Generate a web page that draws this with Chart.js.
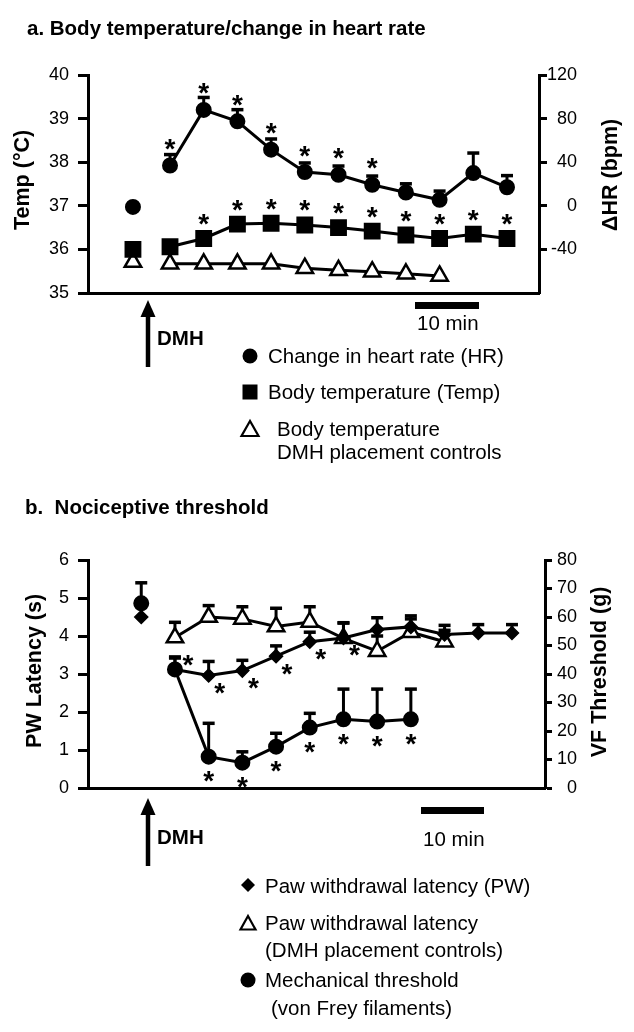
<!DOCTYPE html>
<html><head><meta charset="utf-8">
<script src="https://cdn.jsdelivr.net/npm/chart.js@4.4.1/dist/chart.umd.min.js"></script>
<style>
html,body{margin:0;padding:0;background:#fff;}
body{width:634px;height:1032px;position:relative;overflow:hidden;font-family:'Liberation Sans',Arial,sans-serif;color:#000;}
canvas{position:absolute;left:0;}
.t{position:absolute;white-space:nowrap;font-size:20.5px;line-height:24.6px;}
.b{font-weight:bold;}
.rot{position:absolute;width:300px;height:25.8px;line-height:25.8px;text-align:center;font-weight:bold;font-size:21.5px;transform:rotate(-90deg);white-space:nowrap;}
</style></head>
<body>
<canvas id="ca" width="634" height="320" style="top:0"></canvas>
<canvas id="cb" width="634" height="320" style="top:500px"></canvas>

<svg width="634" height="1032" style="position:absolute;left:0;top:0">
  <line x1="148" y1="315" x2="148" y2="367" stroke="#000" stroke-width="4.5"/>
  <polygon points="148,300 140.5,317 155.5,317" fill="#000"/>
  <rect x="415" y="302" width="64" height="7" fill="#000"/>
  <circle cx="250" cy="356" r="7.5" fill="#000"/>
  <rect x="242.5" y="384.5" width="15" height="15" fill="#000"/>
  <polygon points="250,421 241.5,436 258.5,436" fill="#fff" stroke="#000" stroke-width="2.2"/>

  <line x1="148" y1="813" x2="148" y2="866" stroke="#000" stroke-width="4.5"/>
  <polygon points="148,798 140.5,815 155.5,815" fill="#000"/>
  <rect x="421" y="807" width="63" height="7" fill="#000"/>
  <polygon points="248,878 255,885 248,892 241,885" fill="#000"/>
  <polygon points="248,916 240.5,929.5 255.5,929.5" fill="#fff" stroke="#000" stroke-width="2.2"/>
  <circle cx="248" cy="980" r="7.5" fill="#000"/>
</svg>

<div class="t b" style="left:27px;top:16px">a. Body temperature/change in heart rate</div>
<div class="rot" style="left:-127px;top:167px">Temp (°C)</div>
<div class="rot" style="left:461px;top:162px">ΔHR (bpm)</div>
<div class="t" style="left:417px;top:310.5px">10 min</div>
<div class="t b" style="left:157px;top:325.5px">DMH</div>
<div class="t" style="left:268px;top:343.5px">Change in heart rate (HR)</div>
<div class="t" style="left:268px;top:379.7px">Body temperature (Temp)</div>
<div class="t" style="left:277px;top:417px">Body temperature</div>
<div class="t" style="left:277px;top:440px">DMH placement controls</div>

<div class="t b" style="left:25px;top:494.7px">b.&nbsp; Nociceptive threshold</div>
<div class="rot" style="left:-115.5px;top:658px">PW Latency (s)</div>
<div class="rot" style="left:450px;top:659px">VF Threshold (g)</div>
<div class="t" style="left:423px;top:826.7px">10 min</div>
<div class="t b" style="left:157px;top:825px">DMH</div>
<div class="t" style="left:265px;top:873.5px">Paw withdrawal latency (PW)</div>
<div class="t" style="left:265px;top:910.7px">Paw withdrawal latency</div>
<div class="t" style="left:265px;top:938px">(DMH placement controls)</div>
<div class="t" style="left:265px;top:968px">Mechanical threshold</div>
<div class="t" style="left:271px;top:996px">(von Frey filaments)</div>

<script>
// ---------- Panel a data ----------
const timesA = [0, 5, 10, 15, 20, 25, 30, 35, 40, 45, 50];
const baselineTimeA = -5.5;
const hrBaseline = -1;
const hrValues = [37, 88, 77.5, 51.5, 31, 28.5, 19.3, 12.2, 5.5, 30, 17];
const hrErrors = [10, 11.4, 10.7, 9.8, 8.3, 8, 8, 8, 8, 18.4, 10.7];
const hrStars = [1, 1, 1, 1, 1, 1, 1, 0, 0, 0, 0];
const tempBaseline = 36.0;
const tempValues = [36.06, 36.25, 36.58, 36.6, 36.56, 36.5, 36.42, 36.33, 36.25, 36.35, 36.25];
const tempStars = [0, 1, 1, 1, 1, 1, 1, 1, 1, 1, 1];
const ctrlTempTimes = [0, 5, 10, 15, 20, 25, 30, 35, 40];
const ctrlTempBaseline = 35.71;
const ctrlTempValues = [35.67, 35.67, 35.67, 35.67, 35.57, 35.52, 35.49, 35.44, 35.39];
const tempTicks = [35, 36, 37, 38, 39, 40];
const hrTicks = [-40, 0, 40, 80, 120];

// ---------- Panel b data ----------
const timesB = [0, 5, 10, 15, 20, 25, 30, 35, 40, 45, 50];
const baselineTimeB = -5;
const pwBaseline = 4.5;
const pwValues = [3.12, 2.96, 3.09, 3.47, 3.85, 3.95, 4.17, 4.24, 4.04, 4.08, 4.08];
const pwErrors = [0.3, 0.37, 0.27, 0.27, 0.25, 0.4, 0.31, 0.29, 0.24, 0.22, 0.22];
const pwStars = [1, 1, 1, 1, 1, 1, 0, 0, 0, 0, 0];
const ctrlPwTimes = [0, 5, 10, 15, 20, 25, 30, 35, 40];
const ctrlPwValues = [3.96, 4.5, 4.45, 4.25, 4.37, 3.94, 3.6, 4.1, 3.85];
const ctrlPwErrors = [0.4, 0.3, 0.32, 0.48, 0.4, 0.4, 0.4, 0.35, 0.3];
const vfTimes = [0, 5, 10, 15, 20, 25, 30, 35];
const vfBaseline = 64.8;
const vfBaselineError = 7.2;
const vfValues = [41.6, 11, 8.9, 14.5, 21.2, 24.1, 23.3, 24.1];
const vfErrors = [4.4, 11.7, 3.8, 4.7, 5, 10.6, 11.4, 10.6];
const vfStars = [0, 1, 1, 1, 1, 1, 1, 1];
const pwTicks = [0, 1, 2, 3, 4, 5, 6];
const vfTicks = [0, 10, 20, 30, 40, 50, 60, 70, 80];

const FONT = "'Liberation Sans', Arial, sans-serif";
const pts = (xs, ys) => ys.map((y, i) => ({x: xs[i], y}));

const errorBars = {
  id: 'errorBars',
  beforeDatasetsDraw(chart) {
    const ctx = chart.ctx;
    chart.data.datasets.forEach((ds, di) => {
      if (!ds.errors) return;
      const meta = chart.getDatasetMeta(di);
      const ys = chart.scales[ds.yAxisID];
      meta.data.forEach((el, i) => {
        const e = ds.errors[i];
        if (!e) return;
        const top = ys.getPixelForValue(ds.data[i].y + e);
        ctx.save();
        ctx.strokeStyle = '#000';
        ctx.lineWidth = 3;
        ctx.beginPath();
        ctx.moveTo(el.x, el.y);
        ctx.lineTo(el.x, top);
        ctx.stroke();
        ctx.lineWidth = 3.5;
        ctx.beginPath();
        ctx.moveTo(el.x - 6, top);
        ctx.lineTo(el.x + 6, top);
        ctx.stroke();
        ctx.restore();
      });
    });
  }
};

const stars = {
  id: 'stars',
  afterDatasetsDraw(chart) {
    const ctx = chart.ctx;
    chart.data.datasets.forEach((ds, di) => {
      if (!ds.stars) return;
      const meta = chart.getDatasetMeta(di);
      ctx.save();
      ctx.fillStyle = '#000';
      ctx.font = 'bold 28px ' + FONT;
      ctx.textAlign = 'center';
      ctx.textBaseline = 'alphabetic';
      const m = ctx.measureText('*');
      const mid = (m.actualBoundingBoxDescent - m.actualBoundingBoxAscent) / 2;
      meta.data.forEach((el, i) => {
        if (!ds.stars[i]) return;
        const [dx, dy] = ds.starOffset(i);
        ctx.fillText('*', el.x + dx, el.y + dy - mid);
      });
      ctx.restore();
    });
  }
};

function yAxis(pos, min, max, ticks, opts) {
  return {
    type: 'linear', position: pos, min, max,
    afterBuildTicks: s => { s.ticks = ticks.map(v => ({value: v})); },
    afterFit: s => { s.width = opts.width; },
    ticks: {color: '#000', font: {family: FONT, size: 18}, padding: opts.pad, crossAlign: opts.cross || 'near'},
    grid: {display: true, drawOnChartArea: false, drawTicks: true, tickLength: opts.tl, tickWidth: 3, tickColor: '#000', color: '#000'},
    border: {display: true, width: 3, color: '#000'}
  };
}
function xAxis(min, max) {
  return {
    type: 'linear', position: 'bottom', min, max,
    afterFit: s => { s.height = 0; },
    ticks: {display: false},
    grid: {display: false},
    border: {display: true, width: 3, color: '#000'}
  };
}
const baseOpts = {
  responsive: false, animation: false, events: [],
  plugins: {legend: {display: false}, tooltip: {enabled: false}}
};

// ---------- Chart a ----------
new Chart(document.getElementById('ca'), {
  type: 'scatter',
  data: {datasets: [
    {data: pts(timesA, hrValues), yAxisID: 'yR', showLine: true, borderColor: '#000', borderWidth: 3,
     pointStyle: 'circle', pointRadius: 7, pointBorderWidth: 2, pointBackgroundColor: '#000', pointBorderColor: '#000',
     errors: hrErrors, stars: hrStars, starOffset: () => [0, -21]},
    {data: [{x: baselineTimeA, y: hrBaseline}], yAxisID: 'yR', showLine: false,
     pointStyle: 'circle', pointRadius: 7, pointBorderWidth: 2, pointBackgroundColor: '#000', pointBorderColor: '#000'},
    {data: pts(timesA, tempValues), yAxisID: 'yL', showLine: true, borderColor: '#000', borderWidth: 3,
     pointStyle: 'rect', pointRadius: 10.5, pointBorderWidth: 2, pointBackgroundColor: '#000', pointBorderColor: '#000',
     stars: tempStars, starOffset: () => [0, -19]},
    {data: [{x: baselineTimeA, y: tempBaseline}], yAxisID: 'yL', showLine: false,
     pointStyle: 'rect', pointRadius: 10.5, pointBorderWidth: 2, pointBackgroundColor: '#000', pointBorderColor: '#000'},
    {data: pts(ctrlTempTimes, ctrlTempValues), yAxisID: 'yL', showLine: true, borderColor: '#000', borderWidth: 3,
     pointStyle: 'triangle', pointRadius: 9.5, pointBorderWidth: 2.5, pointBackgroundColor: '#fff', pointBorderColor: '#000'},
    {data: [{x: baselineTimeA, y: ctrlTempBaseline}], yAxisID: 'yL', showLine: false,
     pointStyle: 'triangle', pointRadius: 9.5, pointBorderWidth: 2.5, pointBackgroundColor: '#fff', pointBorderColor: '#000'}
  ]},
  options: Object.assign({}, baseOpts, {
    layout: {padding: {top: 75, bottom: 27, left: 0, right: 57}},
    scales: {
      x: xAxis(-12.17, 54.75),
      yL: yAxis('left', 35, 40, tempTicks, {width: 88, pad: 9, tl: 10}),
      yR: yAxis('right', -80, 120, hrTicks, {width: 38, pad: 1, tl: 8, cross: 'far'})
    }
  }),
  plugins: [errorBars, stars]
});

// ---------- Chart b ----------
new Chart(document.getElementById('cb'), {
  type: 'scatter',
  data: {datasets: [
    {data: pts(vfTimes, vfValues), yAxisID: 'yR', showLine: true, borderColor: '#000', borderWidth: 3,
     pointStyle: 'circle', pointRadius: 7, pointBorderWidth: 2, pointBackgroundColor: '#000', pointBorderColor: '#000',
     errors: vfErrors, stars: vfStars, starOffset: () => [0, 20]},
    {data: [{x: baselineTimeB, y: vfBaseline}], yAxisID: 'yR', showLine: false, errors: [vfBaselineError],
     pointStyle: 'circle', pointRadius: 7, pointBorderWidth: 2, pointBackgroundColor: '#000', pointBorderColor: '#000'},
    {data: pts(timesB, pwValues), yAxisID: 'yL', showLine: true, borderColor: '#000', borderWidth: 3,
     pointStyle: 'rectRot', pointRadius: 6.5, pointBorderWidth: 1.5, pointBackgroundColor: '#000', pointBorderColor: '#000',
     errors: pwErrors, stars: pwStars, starOffset: i => (i === 0 ? [13, -9] : [11, 13])},
    {data: [{x: baselineTimeB, y: pwBaseline}], yAxisID: 'yL', showLine: false,
     pointStyle: 'rectRot', pointRadius: 6.5, pointBorderWidth: 1.5, pointBackgroundColor: '#000', pointBorderColor: '#000'},
    {data: pts(ctrlPwTimes, ctrlPwValues), yAxisID: 'yL', showLine: true, borderColor: '#000', borderWidth: 3,
     pointStyle: 'triangle', pointRadius: 9.5, pointBorderWidth: 2.5, pointBackgroundColor: '#fff', pointBorderColor: '#000',
     errors: ctrlPwErrors}
  ]},
  options: Object.assign({}, baseOpts, {
    layout: {padding: {top: 60, bottom: 32, left: 0, right: 57}},
    scales: {
      x: xAxis(-12.9, 54.9),
      yL: yAxis('left', 0, 6, pwTicks, {width: 88, pad: 9, tl: 10}),
      yR: yAxis('right', 0, 80, vfTicks, {width: 32, pad: 5, tl: 7, cross: 'far'})
    }
  }),
  plugins: [errorBars, stars]
});
</script>
</body></html>
